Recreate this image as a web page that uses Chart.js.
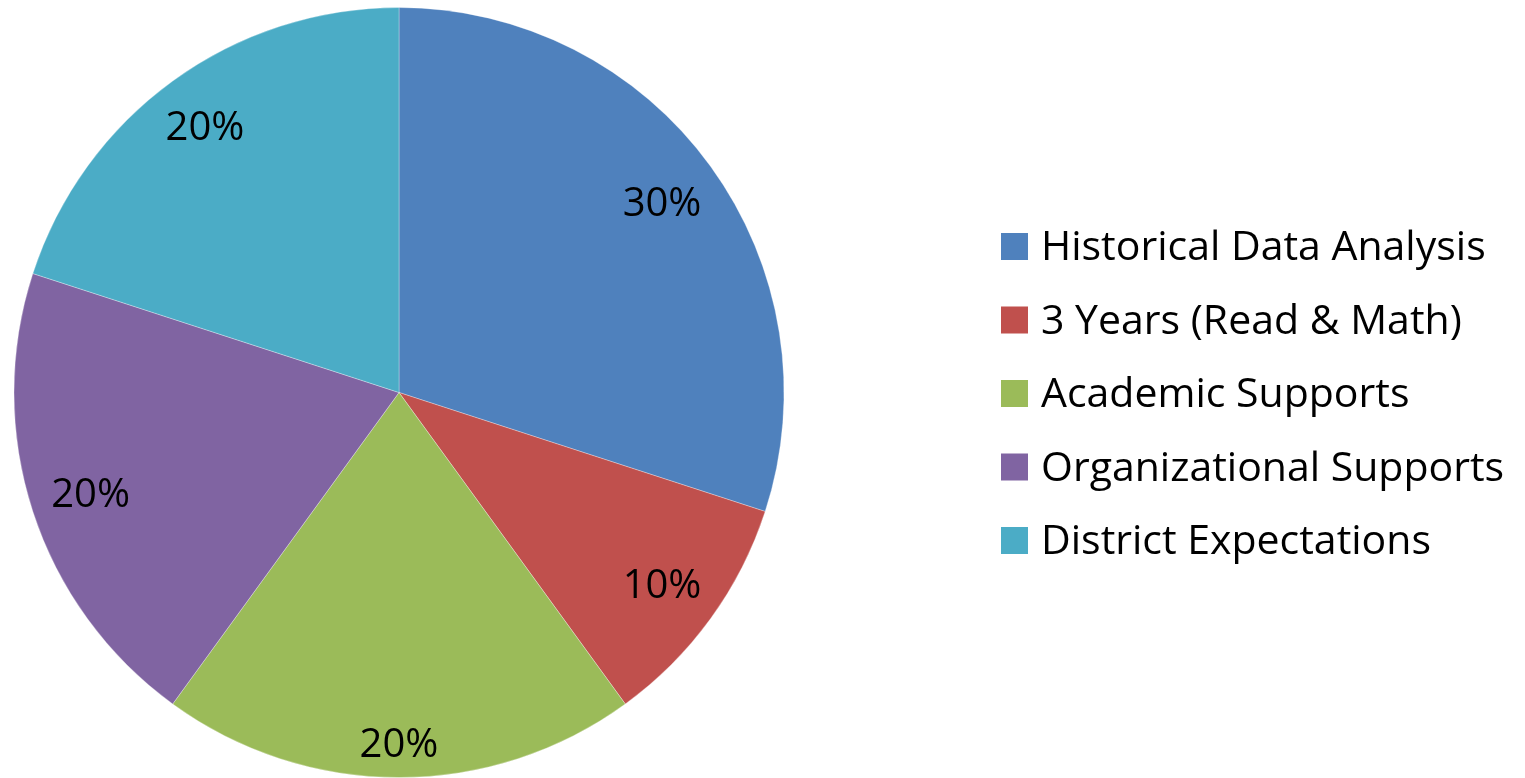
<!DOCTYPE html>
<html>
<head>
<meta charset="utf-8">
<script src="https://cdn.jsdelivr.net/npm/chart.js@4"></script>
<style>
  html, body { margin: 0; padding: 0; background: #fff; }
  canvas { display: block; }
</style>
</head>
<body>
<canvas id="pie" width="1525" height="778"></canvas>
<script>
const categories = ["Historical Data Analysis", "3 Years (Read & Math)", "Academic Supports", "Organizational Supports", "District Expectations"];
const shares = [30, 10, 20, 20, 20];
const sliceColors = ["#4F81BD", "#C0504D", "#9BBB59", "#8064A2", "#4BACC6"];

const LABEL_FONT = '40px "Open Sans", "Noto Sans", sans-serif';
const LEGEND_FONT = '41px "Open Sans", "Noto Sans", sans-serif';

// percentage labels, placed inside the end of each slice
const sliceLabels = {
    id: 'sliceLabels',
    afterDatasetsDraw(chart) {
        const ctx = chart.ctx;
        const meta = chart.getDatasetMeta(0);
        const total = shares.reduce((a, b) => a + b, 0);
        ctx.save();
        ctx.font = LABEL_FONT;
        ctx.fillStyle = '#000';
        ctx.textAlign = 'center';
        ctx.textBaseline = 'middle';
        meta.data.forEach((arc, i) => {
            const p = arc.getProps(['x', 'y', 'startAngle', 'endAngle', 'outerRadius'], true);
            const mid = (p.startAngle + p.endAngle) / 2;
            const text = Math.round(shares[i] / total * 100) + '%';
            const halfW = ctx.measureText(text).width / 2;
            const halfH = 17;
            const c = Math.cos(mid), s = Math.sin(mid);
            const d = p.outerRadius - 18 - (Math.abs(c) * halfW + Math.abs(s) * halfH);
            ctx.fillText(text, p.x + c * d, p.y + s * d + 3);
        });
        ctx.restore();
    }
};

// legend on the right side
const sideLegend = {
    id: 'sideLegend',
    afterDraw(chart) {
        const ctx = chart.ctx;
        const rowGap = 73.5;
        const midY = (chart.chartArea.top + chart.chartArea.bottom) / 2;
        const firstY = midY - rowGap * (categories.length - 1) / 2;
        const boxX = 1001, box = 27, textX = 1041;
        ctx.save();
        ctx.font = LEGEND_FONT;
        ctx.textAlign = 'left';
        ctx.textBaseline = 'middle';
        categories.forEach((name, i) => {
            const y = firstY + i * rowGap + 1;
            ctx.fillStyle = sliceColors[i];
            ctx.fillRect(boxX, y - box / 2, box, box);
            ctx.fillStyle = '#000';
            ctx.fillText(name, textX, y + 2);
        });
        ctx.restore();
    }
};

new Chart(document.getElementById('pie'), {
    type: 'pie',
    data: {
        labels: categories,
        datasets: [{
            data: shares,
            backgroundColor: sliceColors,
            borderColor: 'rgba(255,255,255,0.3)',
            borderWidth: 1
        }]
    },
    options: {
        responsive: false,
        animation: false,
        layout: {
            padding: { top: 7, right: 727, bottom: 0, left: 0 }
        },
        plugins: {
            legend: { display: false },
            tooltip: { enabled: false }
        }
    },
    plugins: [sliceLabels, sideLegend]
});
</script>
</body>
</html>
